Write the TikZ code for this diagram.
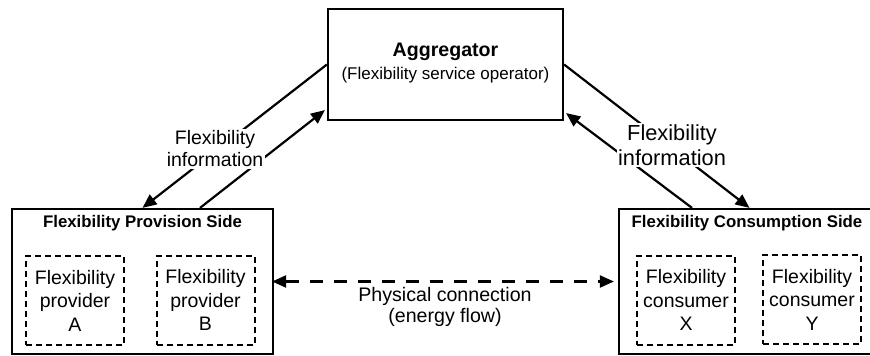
\documentclass[tikz,border=0pt]{standalone}
\usepackage{fontspec}
\setmainfont{Liberation Sans}
\usetikzlibrary{arrows.meta,calc}
\begin{document}
\begin{tikzpicture}[x=1pt,y=-1pt,
  box/.style={draw,line width=2.2pt,rectangle,inner sep=0pt},
  subbox/.style={draw,line width=2pt,dash pattern=on 6pt off 4pt,rectangle,inner sep=0pt,
    minimum width=98pt,minimum height=89pt,align=center,font=\fontsize{19.5}{23.5}\selectfont},
  conn/.style={line width=2.2pt,-{Triangle[length=14pt,width=12pt]}},
  lbl/.style={fill=white,inner sep=1.5pt,align=center},
  ttl/.style={font=\fontsize{16.8}{20}\selectfont\bfseries}
]
\useasboundingbox (0,0) rectangle (870,356);
% main boxes
\node[box,minimum width=235pt,minimum height=111pt] (agg) at (445.5,64.5) {};
\node[align=center,font=\fontsize{19.6}{23}\selectfont\bfseries] (aggt) at (445.5,52) {Aggregator};
\node[align=center,font=\fontsize{17}{20}\selectfont] (aggs) at (445.5,75) {(Flexibility service operator)};
\node[box,minimum width=261pt,minimum height=145pt] (left) at (142.5,281.5) {};
\node[box,minimum width=261pt,minimum height=145pt] (right) at (749.5,281.5) {};
\node[ttl] (lt) at (142.5,223) {Flexibility Provision Side};
\node[ttl] (rt) at (747,223) {Flexibility Consumption Side};
% sub boxes
\node[subbox] (pa) at (75,300.5) {Flexibility\\provider\\A};
\node[subbox] (pb) at (205.5,300) {Flexibility\\provider\\B};
\node[subbox] (cx) at (686,300) {Flexibility\\consumer\\X};
\node[subbox] (cy) at (812,299.5) {Flexibility\\consumer\\Y};
% connectors
\coordinate (aglo) at ($(agg.south west)+(-2,-11)$);
\coordinate (agro) at ($(agg.south east)+(2,-8)$);
\coordinate (lfrom) at ($(left.north)+(57.5,0)$);
\coordinate (rfrom) at ($(right.north)+(-57.5,0)$);
\draw[conn] (agg.west) -- (left.north);
\draw[conn] (lfrom) -- (aglo);
\draw[conn] (agg.east) -- (right.north);
\draw[conn] (rfrom) -- (agro);
\draw[line width=2.2pt,dash pattern=on 13pt off 11pt,
  {Triangle[length=14pt,width=12pt]}-{Triangle[length=14pt,width=12pt]},
  shorten <=-2pt, shorten >=4pt] (left.east) -- (right.west);
% labels
\node[lbl,font=\fontsize{19.5}{22}\selectfont] (ll) at (215,149) {Flexibility\\information};
\node[lbl,font=\fontsize{21.8}{25}\selectfont] (rl) at (672,145) {Flexibility\\information};
\node[align=center,font=\fontsize{19.6}{21}\selectfont] (pc) at (445,307) {Physical connection\\(energy flow)};
\end{tikzpicture}
\end{document}
